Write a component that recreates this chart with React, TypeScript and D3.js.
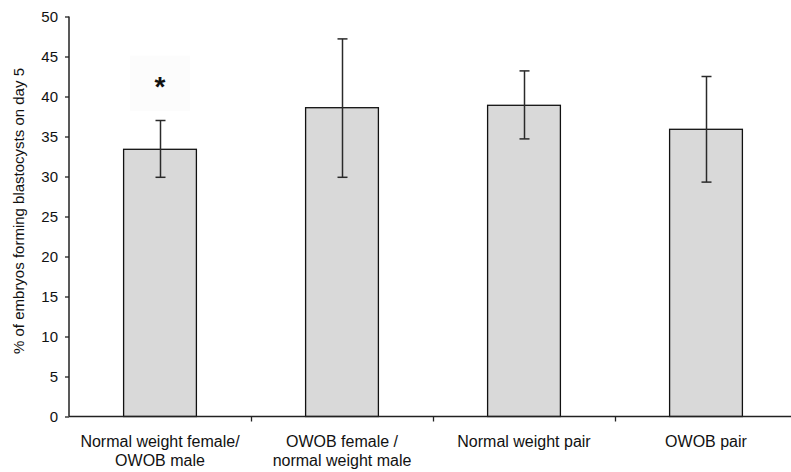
import React, { useEffect, useRef } from "react";
import * as d3 from "d3";

const categories = [
  ["Normal weight female/", "OWOB male"],
  ["OWOB female /", "normal weight male"],
  ["Normal weight pair"],
  ["OWOB pair"],
];
const means = [33.4, 38.6, 38.9, 35.9];
const errUpper = [37.0, 47.2, 43.2, 42.5];
const errLower = [29.9, 29.9, 34.7, 29.3];
const yTicks = [0, 5, 10, 15, 20, 25, 30, 35, 40, 45, 50];
const starred = [true, false, false, false];

const App = () => {
  const ref = useRef<SVGSVGElement>(null);

  useEffect(() => {
    const svg = d3.select(ref.current);
    svg.selectAll("*").remove();
    const width = 791;
    const height = 472;
    const font = "'Liberation Sans', Arial, sans-serif";

    const idx = categories.map((_, i) => i);
    const xScale = d3.scaleBand<number>()
      .domain(idx)
      .range([69, 797])
      .paddingInner(0.6)
      .paddingOuter(0.3);
    const yScale = d3.scaleLinear().domain([0, 50]).range([416.5, 16.5]);

    svg.attr("width", width).attr("height", height).style("background", "white");

    // faint box behind the asterisk
    idx.filter((i) => starred[i]).forEach((i) => {
      const cx = xScale(i)! + xScale.bandwidth() / 2;
      svg.append("rect")
        .attr("x", cx - 30)
        .attr("y", yScale(45.1))
        .attr("width", 60)
        .attr("height", yScale(38.2) - yScale(45.1))
        .attr("fill", "#fcfcfc");
      svg.append("text")
        .text("*")
        .attr("x", cx)
        .attr("y", yScale(40.1))
        .attr("text-anchor", "middle")
        .style("font-family", font)
        .style("font-size", "28px")
        .style("font-weight", "bold")
        .style("fill", "#111");
    });

    // bars
    svg.selectAll("rect.bar")
      .data(idx)
      .enter()
      .append("rect")
      .attr("class", "bar")
      .attr("x", (i) => xScale(i)!)
      .attr("y", (i) => yScale(means[i]))
      .attr("width", xScale.bandwidth())
      .attr("height", (i) => yScale(0) - yScale(means[i]))
      .attr("fill", "#d9d9d9")
      .attr("stroke", "#111")
      .attr("stroke-width", 1.3);

    // error bars
    const errG = svg.append("g").attr("stroke", "#2a2a2a").attr("stroke-width", 1.5);
    idx.forEach((i) => {
      const cx = Math.round(xScale(i)! + xScale.bandwidth() / 2) + 0.5;
      errG.append("line")
        .attr("x1", cx).attr("x2", cx)
        .attr("y1", yScale(errUpper[i])).attr("y2", yScale(errLower[i]));
      [errUpper[i], errLower[i]].forEach((v) => {
        errG.append("line")
          .attr("x1", cx - 5).attr("x2", cx + 5)
          .attr("y1", yScale(v)).attr("y2", yScale(v));
      });
    });

    // y axis
    const yAxis = d3.axisLeft(yScale)
      .tickValues(yTicks)
      .tickSize(4)
      .tickPadding(7)
      .tickFormat(d3.format("d"));
    const yG = svg.append("g")
      .attr("transform", "translate(69,0)")
      .call(yAxis);
    yG.select(".domain").attr("d", `M0,${yScale(50)}V${yScale(0)}`).attr("stroke", "#222").attr("stroke-width", 1.5);
    yG.selectAll(".tick line").attr("stroke", "#222").attr("stroke-width", 1.3);
    yG.selectAll(".tick text")
      .style("font-family", font)
      .style("font-size", "15px")
      .attr("fill", "#111");

    // x axis with ticks at category boundaries
    const boundaryScale = d3.scaleLinear().domain([0, 4]).range([69, 797]);
    const xAxis = d3.axisBottom(boundaryScale)
      .tickValues([1, 2, 3])
      .tickSize(5)
      .tickFormat(() => "");
    const xG = svg.append("g")
      .attr("transform", `translate(0,${yScale(0)})`)
      .call(xAxis);
    xG.select(".domain").attr("d", "M69,0H797").attr("stroke", "#222").attr("stroke-width", 1.5);
    xG.selectAll(".tick line").attr("stroke", "#222").attr("stroke-width", 1.3);

    // category labels
    idx.forEach((i) => {
      const cx = xScale(i)! + xScale.bandwidth() / 2;
      const t = svg.append("text")
        .attr("text-anchor", "middle")
        .style("font-family", font)
        .style("font-size", "16px")
        .attr("fill", "#111");
      categories[i].forEach((line, j) => {
        t.append("tspan")
          .attr("x", cx)
          .attr("y", 447 + j * 19)
          .text(line);
      });
    });

    // y title
    svg.append("text")
      .text("% of embryos forming blastocysts on day 5")
      .attr("transform", "rotate(-90)")
      .attr("x", -211)
      .attr("y", 24)
      .attr("text-anchor", "middle")
      .style("font-family", font)
      .style("font-size", "15px")
      .attr("fill", "#111");
  }, []);

  return (
    <svg ref={ref} style={{ position: "absolute", left: 0, top: 0, display: "block" }}></svg>
  );
};

export default App;
